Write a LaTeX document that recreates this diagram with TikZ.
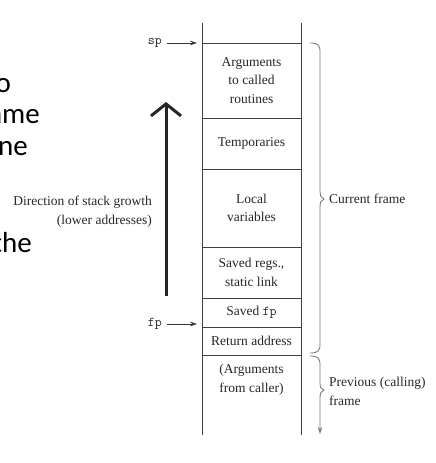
\documentclass[tikz,border=0pt]{standalone}
\usepackage{fontspec}
\setmainfont{Liberation Serif}
\newfontfamily\slidefont{Carlito}
\usetikzlibrary{positioning,arrows.meta}

\begin{document}
\begin{tikzpicture}[x=1pt, y=-1pt,
    every node/.style={text=black!85, font=\fontsize{13.5}{18.5}\selectfont},
    frameslot/.style={draw=black!75, line width=0.8pt, minimum width=99pt, inner sep=0pt, outer sep=0pt, align=center},
    colline/.style={draw=black!75, line width=0.8pt},
    ptr/.style={-{Stealth[length=7pt,width=4.5pt]}, draw=black!80, line width=0.7pt},
    brace/.style={draw=black!55, line width=0.8pt},
    regname/.style={font=\ttfamily\fontsize{13.5}{16}\selectfont, anchor=east, inner sep=0pt},
    slide/.style={font=\slidefont\fontsize{29}{32}\selectfont, text=black, inner sep=0pt, anchor=base east}]

\useasboundingbox (0,0) rectangle (436,463);
\clip (0,0) rectangle (436,463);

% Slide text cut off at the left edge
\node[slide] (slide1) at (11,92) {o};
\node[slide] (slide2) at (40,123) {ame};
\node[slide] (slide3) at (28,155) {ne};
\node[slide] (slide4) at (32,252) {the};

% Stack frame slots
\node[frameslot, minimum height=75pt, anchor=north west] (args) at (202,43) {Arguments\\to called\\routines};
\node[frameslot, minimum height=51pt, below=0pt of args] (temps) {Temporaries};
\node[frameslot, minimum height=78pt, below=0pt of temps] (locals) {Local\\variables};
\node[frameslot, minimum height=51pt, below=0pt of locals] (regs) {Saved regs.,\\static link};
\node[frameslot, minimum height=29pt, below=0pt of regs] (savedfp) {Saved \texttt{fp}};
\node[frameslot, minimum height=28pt, below=0pt of savedfp] (retaddr) {Return address};
\node[inner sep=0pt, align=center, below=9pt of retaddr] (caller) {(Arguments\\from caller)};

% Open ends of the stack
\draw[colline] (args.north west) -- ++(0,-20);
\draw[colline] (args.north east) -- ++(0,-20);
\draw[colline] (retaddr.south west) -- ++(0,80);
\draw[colline] (retaddr.south east) -- ++(0,80);

% sp and fp
\node[regname] (sp) at (162,43) {sp};
\draw[ptr, shorten <=5pt, shorten >=5pt] (sp.east) -- (sp.east -| args.west);
\node[regname] (fp) at (162,324) {fp};
\draw[ptr, shorten <=5pt, shorten >=5pt] (fp.east) -- (fp.east -| savedfp.west);

% Growth arrow
\coordinate (growbot) at (166,296);
\coordinate (growtop) at (166,102);
\draw[line width=3pt, black!85, -{Straight Barb[length=12pt,width=30pt]}] (growbot) -- (growtop);
\node[anchor=east, align=right, inner sep=0pt] (growth) at (152,211.5) {Direction of stack growth\\(lower addresses)};

% Current frame brace
\draw[brace] (310,43) .. controls (318,43) and (320,45) .. (320,52) -- (320,190) .. controls (320,196) and (321,198) .. (324,199) .. controls (321,200) and (320,202) .. (320,208) -- (320,344) .. controls (320,351) and (318,353) .. (310,353);
\node[anchor=west, inner sep=0pt] (current) at (329,199) {Current frame};

% Previous frame brace, open below
\draw[brace, -{Stealth[length=7pt,width=4.5pt]}] (310,356) .. controls (318,356) and (320,358) .. (320,365) -- (320,382) .. controls (320,388) and (321,389) .. (324,390) .. controls (321,391) and (320,393) .. (320,398) -- (320,434);
\node[anchor=west, align=left, inner sep=0pt] (previous) at (329,391.5) {Previous (calling)\\frame};
\end{tikzpicture}
\end{document}
